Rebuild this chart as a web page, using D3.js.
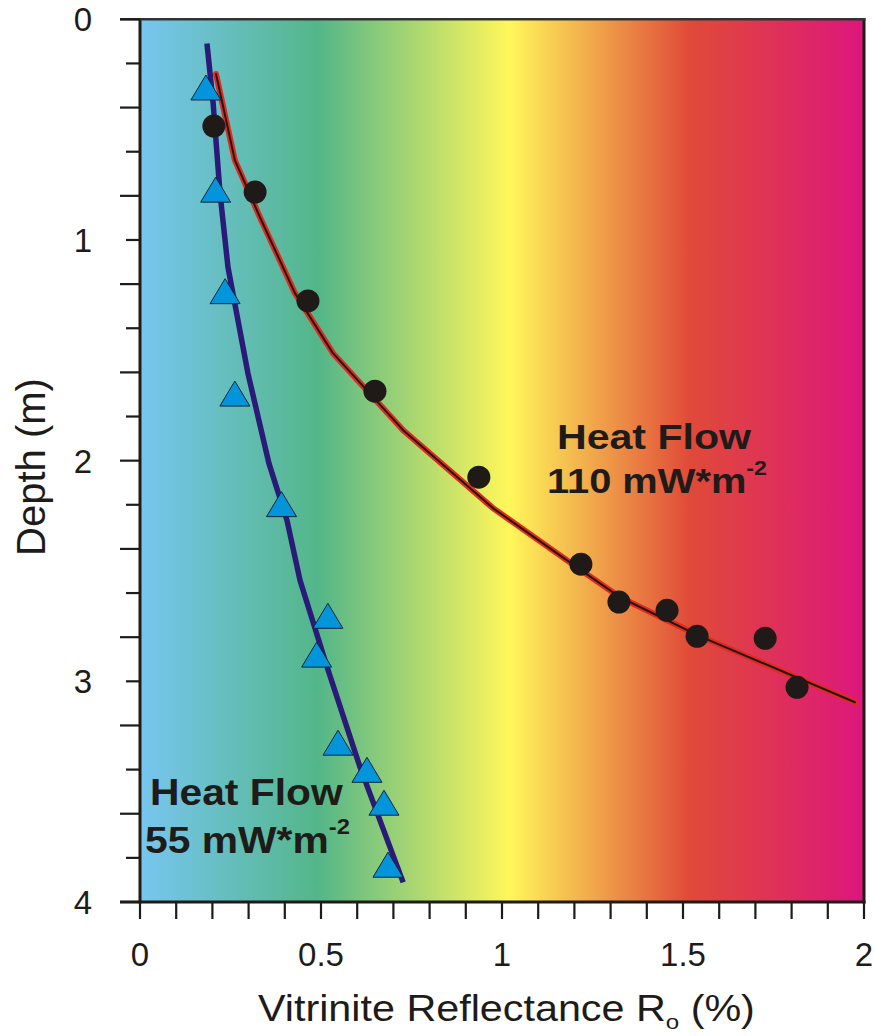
<!DOCTYPE html>
<html>
<head>
<meta charset="utf-8">
<script src="https://cdn.jsdelivr.net/npm/d3@7/dist/d3.min.js"></script>
<style>
  html, body { margin: 0; padding: 0; background: #ffffff; }
  svg { display: block; }
  text { font-family: "Liberation Sans", Arial, Helvetica, sans-serif; fill: #1e1b19; }
</style>
</head>
<body>
<svg id="chart" width="875" height="1036"></svg>
<script>
// ---- Data ----
// 110 mW*m-2 measured samples (black circles): reflectance (%), depth (m)
const hf110Ro    = [0.204, 0.318, 0.464, 0.649, 0.936, 1.218, 1.323, 1.456, 1.539, 1.727, 1.815];
const hf110Depth = [0.484, 0.783, 1.276, 1.685, 2.075, 2.469, 2.641, 2.678, 2.796, 2.805, 3.027];
// 110 mW*m-2 model curve
const hf110CurveRo    = [0.210, 0.262, 0.331, 0.428, 0.533, 0.727, 0.975, 1.218, 1.326, 1.547, 1.975];
const hf110CurveDepth = [0.248, 0.638, 0.896, 1.241, 1.513, 1.862, 2.215, 2.496, 2.619, 2.796, 3.095];
// 55 mW*m-2 measured samples (blue triangles)
const hf55Ro    = [0.182, 0.209, 0.235, 0.262, 0.391, 0.519, 0.488, 0.547, 0.627, 0.674, 0.685];
const hf55Depth = [0.309, 0.772, 1.232, 1.696, 2.197, 2.703, 2.879, 3.278, 3.401, 3.550, 3.831];
// 55 mW*m-2 model curve
const hf55CurveRo    = [0.185, 0.202, 0.221, 0.243, 0.298, 0.356, 0.406, 0.442, 0.517, 0.608, 0.727];
const hf55CurveDepth = [0.110, 0.380, 0.787, 1.123, 1.603, 2.011, 2.270, 2.542, 2.936, 3.390, 3.911];

const xTickValues  = d3.range(0, 2.0001, 0.1).map(v => +v.toFixed(1));
const xTickLabels  = [0, 0.5, 1, 1.5, 2];
const yTickValues  = d3.range(0, 4.0001, 0.2).map(v => +v.toFixed(1));
const yTickLabels  = [0, 1, 2, 3, 4];
const gradStops = [
  {o: 0.00, c: "#77c6f0"},
  {o: 0.246, c: "#53b689"},
  {o: 0.51, c: "#fff75a"},
  {o: 0.76, c: "#e04a38"},
  {o: 1.00, c: "#dd167c"}
];

// ---- Layout ----
const svg = d3.select("#chart");
const x = d3.scaleLinear().domain([0, 2]).range([140, 864]);
const y = d3.scaleLinear().domain([0, 4]).range([19.3, 902]);

// background gradient
const defs = svg.append("defs");
const grad = defs.append("linearGradient").attr("id", "bg")
  .attr("x1", "0%").attr("x2", "100%").attr("y1", "0%").attr("y2", "0%");
grad.selectAll("stop").data(gradStops).join("stop")
  .attr("offset", d => d.o).attr("stop-color", d => d.c);

svg.append("rect")
  .attr("x", x(0)).attr("y", y(0))
  .attr("width", x(2) - x(0)).attr("height", y(4) - y(0))
  .attr("fill", "url(#bg)");

// ---- Curves ----
const line = d3.line().x(d => x(d[0])).y(d => y(d[1])).curve(d3.curveLinear);
const c110 = hf110CurveRo.map((v, i) => [v, hf110CurveDepth[i]]);
const c55  = hf55CurveRo.map((v, i) => [v, hf55CurveDepth[i]]);

svg.append("path").datum(c110).attr("d", line)
  .attr("fill", "none").attr("stroke", "#e5291f").attr("stroke-width", 6)
  .attr("stroke-linejoin", "round").attr("stroke-linecap", "round");
svg.append("path").datum(c110).attr("d", line)
  .attr("fill", "none").attr("stroke", "#1c1a18").attr("stroke-width", 2)
  .attr("stroke-linejoin", "round").attr("stroke-linecap", "round");

svg.append("path").datum(c55).attr("d", line)
  .attr("fill", "none").attr("stroke", "#2a1b78").attr("stroke-width", 5.5)
  .attr("stroke-linejoin", "round");

// ---- Markers ----
const pts55 = hf55Ro.map((v, i) => [v, hf55Depth[i]]);
const triW = 30, triH = 25;
svg.append("g").selectAll("path").data(pts55).join("path")
  .attr("d", d => {
    const cx = x(d[0]), cy = y(d[1]);
    return `M${cx},${cy - triH / 2}L${cx + triW / 2},${cy + triH / 2}L${cx - triW / 2},${cy + triH / 2}Z`;
  })
  .attr("fill", "#0395dc").attr("stroke", "#15233a").attr("stroke-width", 1)
  .attr("stroke-linejoin", "miter");

const pts110 = hf110Ro.map((v, i) => [v, hf110Depth[i]]);
svg.append("g").selectAll("circle").data(pts110).join("circle")
  .attr("cx", d => x(d[0])).attr("cy", d => y(d[1])).attr("r", 11.5)
  .attr("fill", "#1f1a17");

// ---- Frame ----
const frameColor = "#1e1b19";
svg.append("line").attr("x1", x(0)).attr("x2", x(0)).attr("y1", y(0) - 1).attr("y2", y(4) + 1.5)
  .attr("stroke", frameColor).attr("stroke-width", 3);
svg.append("line").attr("x1", x(2)).attr("x2", x(2)).attr("y1", y(0) - 1).attr("y2", y(4) + 1.5)
  .attr("stroke", frameColor).attr("stroke-width", 3);
svg.append("line").attr("x1", x(0) - 20).attr("x2", x(2) + 1.5).attr("y1", y(0)).attr("y2", y(0))
  .attr("stroke", "#333").attr("stroke-width", 2.5);
svg.append("line").attr("x1", x(0) - 20).attr("x2", x(2) + 1.5).attr("y1", y(4)).attr("y2", y(4))
  .attr("stroke", frameColor).attr("stroke-width", 3);

// Y ticks
svg.append("g").selectAll("line").data(yTickValues).join("line")
  .attr("x1", d => x(0) - (Math.round(d * 10) % 4 === 0 ? 20 : 14))
  .attr("x2", x(0))
  .attr("y1", d => y(d)).attr("y2", d => y(d))
  .attr("stroke", frameColor).attr("stroke-width", 2.2);

// X ticks
svg.append("g").selectAll("line").data(xTickValues).join("line")
  .attr("x1", d => x(d)).attr("x2", d => x(d))
  .attr("y1", y(4)).attr("y2", d => y(4) + 17)
  .attr("stroke", frameColor).attr("stroke-width", 2.2);

// Y tick labels
svg.append("g").selectAll("text").data(yTickLabels).join("text")
  .attr("x", 92).attr("y", d => y(d)).attr("dy", "0.36em")
  .attr("text-anchor", "end").attr("font-size", 33)
  .text(d => d3.format("")(d));

// X tick labels
svg.append("g").selectAll("text").data(xTickLabels).join("text")
  .attr("x", d => x(d)).attr("y", 966)
  .attr("text-anchor", "middle").attr("font-size", 33)
  .text(d => d3.format("")(d));

// helper: fit text horizontally to a target width
function fitWidth(sel, left, width) {
  const bb = sel.node().getBBox();
  const s = width / bb.width;
  sel.attr("transform", `translate(${left},0) scale(${s},1) translate(${-bb.x},0)`);
}

// Axis titles
const xt = svg.append("text").attr("x", 258).attr("y", 1021).attr("font-size", 36);
xt.append("tspan").text("Vitrinite Reflectance R");
xt.append("tspan").attr("font-size", 21).attr("dy", 8).text("o");
xt.append("tspan").attr("dy", -8).text(" (%)");
fitWidth(xt, 258, 497);

svg.append("text")
  .attr("transform", "translate(45,467) rotate(-90)")
  .attr("text-anchor", "middle").attr("font-size", 40)
  .text("Depth (m)");

// Heat flow annotations
function heatLabel(line1Left, line1Width, base1, line2Left, line2Width, base2, fs, value) {
  const t1 = svg.append("text").attr("x", line1Left).attr("y", base1)
    .attr("font-size", fs).attr("font-weight", "bold").text("Heat Flow");
  fitWidth(t1, line1Left, line1Width);
  const t2 = svg.append("text").attr("x", line2Left).attr("y", base2)
    .attr("font-size", fs).attr("font-weight", "bold");
  t2.append("tspan").text(value + " mW*m");
  t2.append("tspan").attr("font-size", fs * 0.58).attr("dy", -fs * 0.5).text("-2");
  fitWidth(t2, line2Left, line2Width);
}
heatLabel(557, 195, 449, 547, 220, 493, 35, "110");
heatLabel(150, 193, 805, 145, 205, 853, 37, "55");
</script>
</body>
</html>
